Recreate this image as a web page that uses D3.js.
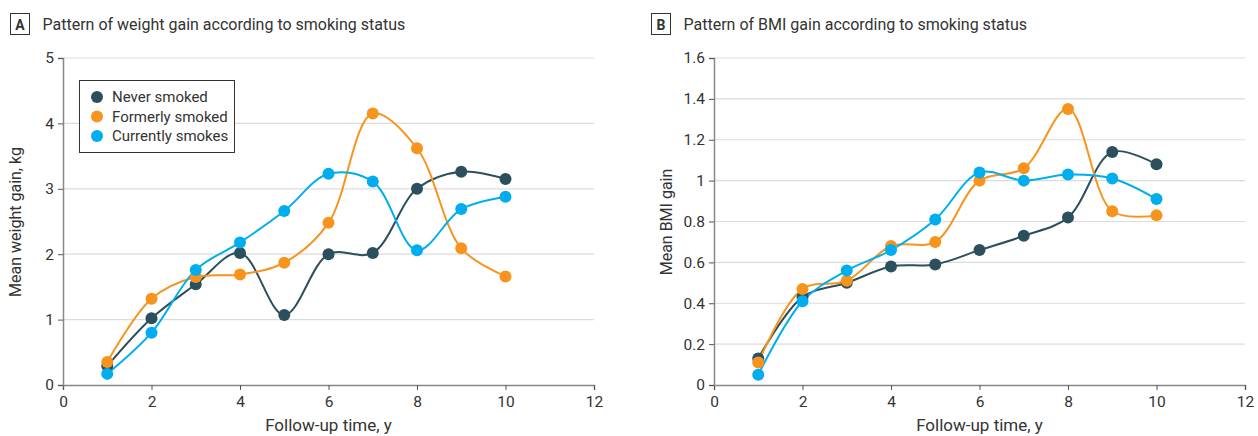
<!DOCTYPE html>
<html><head><meta charset="utf-8">
<script src="https://cdn.jsdelivr.net/npm/d3@7"></script>
<style>
body{margin:0;background:#fff;}
text{font-family:Roboto,"Liberation Sans",sans-serif;fill:#333;}
</style></head><body>
<svg id="c" width="1258" height="436"></svg>
<script>
const years = [1,2,3,4,5,6,7,8,9,10];
const seriesNames = ["Never smoked","Formerly smoked","Currently smokes"];
const colors = ["#2b4f5c","#f7941d","#00aeef"];
const weightNever = [0.29,1.02,1.54,2.02,1.07,2.00,2.02,3.00,3.26,3.15];
const weightFormer = [0.35,1.32,1.65,1.69,1.87,2.48,4.15,3.62,2.09,1.66];
const weightCurrent = [0.17,0.80,1.76,2.18,2.66,3.23,3.11,2.06,2.69,2.88];
const bmiNever = [0.13,0.43,0.50,0.58,0.59,0.66,0.73,0.82,1.14,1.08];
const bmiFormer = [0.11,0.47,0.51,0.68,0.70,1.00,1.06,1.35,0.85,0.83];
const bmiCurrent = [0.05,0.41,0.56,0.66,0.81,1.04,1.00,1.03,1.01,0.91];
const xTicks = [0,2,4,6,8,10,12];
const weightTicks = [0,1,2,3,4,5];
const bmiTicks = [0,0.2,0.4,0.6,0.8,1.0,1.2,1.4,1.6];

const svg = d3.select("#c");

function panel(o){
  const g = svg.append("g");
  const x = d3.scaleLinear().domain([0,12]).range([o.x0,o.x1]);
  const y = d3.scaleLinear().domain([0,o.ymax]).range([385,58]);
  g.append("rect").attr("x",o.bx).attr("y",13.5).attr("width",19).attr("height",21)
    .attr("fill","none").attr("stroke","#333").attr("stroke-width",1);
  g.append("text").attr("x",o.bx+9.5).attr("y",29.5).attr("text-anchor","middle")
    .style("font-weight","bold").style("font-size","14px").text(o.letter);
  g.append("text").attr("x",o.bx+32).attr("y",30).style("font-size","16px").text(o.title);
  g.selectAll(".grid").data(o.yticks.filter(d=>d>0)).enter().append("line")
    .attr("x1",o.x0).attr("x2",o.x1).attr("y1",d=>y(d)).attr("y2",d=>y(d))
    .attr("stroke","#dcdcdc").attr("stroke-width",1.2);
  const ax = g.append("g").attr("transform","translate(0,385)")
    .call(d3.axisBottom(x).tickValues(xTicks).tickSize(5).tickPadding(4).tickFormat(d3.format("d")));
  const ay = g.append("g").attr("transform",`translate(${o.x0},0)`)
    .call(d3.axisLeft(y).tickValues(o.yticks).tickSize(5).tickPadding(4).tickFormat(o.fmt));
  [ax,ay].forEach(a=>{
    a.select(".domain").attr("stroke","#888").attr("stroke-width",1.5);
    a.selectAll(".tick line").attr("stroke","#555");
    a.selectAll(".tick text").style("font-size","15.5px").attr("fill","#333");
  });
  ax.selectAll(".tick text").attr("dy","0.82em");
  g.append("text").attr("x",(o.x0+o.x1)/2).attr("y",431).attr("text-anchor","middle")
    .style("font-size","17px").text("Follow-up time, y");
  g.append("text").attr("transform",`translate(${o.x0-42},222) rotate(-90)`).attr("text-anchor","middle")
    .style("font-size","16px").text(o.ylabel);
  const line = d3.line().x((d,i)=>x(years[i])).y(d=>y(d)).curve(d3.curveCatmullRom.alpha(0.5));
  o.series.forEach((s,k)=>{
    g.append("path").attr("d",line(s)).attr("fill","none").attr("stroke",colors[k]).attr("stroke-width",2);
  });
  o.series.forEach((s,k)=>{
    g.selectAll(null).data(s).enter().append("circle")
      .attr("cx",(d,i)=>x(years[i])).attr("cy",d=>y(d)).attr("r",6).attr("fill",colors[k]);
  });
  return {g,x,y};
}

const A = panel({x0:63,x1:594,ymax:5,yticks:weightTicks,fmt:d3.format("d"),bx:10.5,letter:"A",
  title:"Pattern of weight gain according to smoking status",ylabel:"Mean weight gain, kg",
  series:[weightNever,weightFormer,weightCurrent]});
const B = panel({x0:714,x1:1245,ymax:1.6,yticks:bmiTicks,fmt:d=>d===0||d===1?String(d):d.toFixed(1),bx:651.5,letter:"B",
  title:"Pattern of BMI gain according to smoking status",ylabel:"Mean BMI gain",
  series:[bmiNever,bmiFormer,bmiCurrent]});

const lg = svg.append("g");
lg.append("rect").attr("x",79.5).attr("y",80.5).attr("width",155).attr("height",72)
  .attr("fill","#fff").attr("stroke","#333").attr("stroke-width",1);
seriesNames.forEach((n,i)=>{
  lg.append("circle").attr("cx",97).attr("cy",97+i*19.5).attr("r",6).attr("fill",colors[i]);
  lg.append("text").attr("x",112).attr("y",102+i*19.5).style("font-size","15px").text(n);
});
</script></body></html>
